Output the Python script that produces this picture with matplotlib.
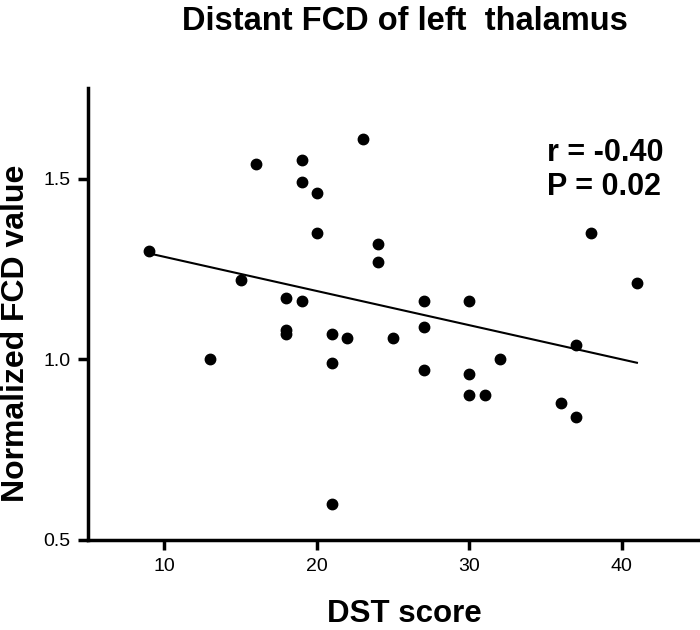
import numpy as np
import matplotlib
matplotlib.use('Agg')
import matplotlib.pyplot as plt

# DST score vs normalized FCD value
dst_score = [9, 13, 15, 16, 18, 18, 18, 19, 19, 19, 20, 20, 21, 21, 21, 22, 23,
             24, 24, 25, 27, 27, 27, 30, 30, 30, 31, 32, 36, 37, 37, 38, 41]
fcd_value = [1.30, 1.00, 1.22, 1.54, 1.17, 1.08, 1.07, 1.55, 1.49, 1.16, 1.46, 1.35,
             1.07, 0.99, 0.60, 1.06, 1.61, 1.32, 1.27, 1.06, 1.16, 1.09, 0.97, 1.16,
             0.96, 0.90, 0.90, 1.00, 0.88, 1.04, 0.84, 1.35, 1.21]
x_ticks = [10, 20, 30, 40]
y_ticks = [0.5, 1.0, 1.5]
stats_text = 'r = -0.40\nP = 0.02'

plt.rcParams['font.family'] = ['Liberation Sans', 'DejaVu Sans']

fig = plt.figure(figsize=(7, 6.3), dpi=100)
ax = fig.add_axes([0.126, 0.143, 0.871, 0.717])

ax.plot(dst_score, fcd_value, 'o', color='black', markersize=7.5, zorder=3)

# linear fit
slope, intercept = np.polyfit(dst_score, fcd_value, 1)
xs = np.array([min(dst_score), max(dst_score)])
ax.plot(xs, slope * xs + intercept, color='black', linewidth=1.5)

ax.set_xlim(5, 45)
ax.set_ylim(0.5, 1.75)
ax.set_xticks(x_ticks)
ax.set_yticks(y_ticks)
ax.set_yticklabels(['%.1f' % v for v in y_ticks])

for s in ['top', 'right']:
    ax.spines[s].set_visible(False)
for s in ['left', 'bottom']:
    ax.spines[s].set_linewidth(2.5)
ax.tick_params(direction='out', length=7, width=2.5, labelsize=14, pad=6)

fig.text(404 / 700, 1 - 614 / 630, 'DST score', fontsize=22.5, fontweight='bold',
         ha='center', va='center')
fig.text(16 / 700, 1 - 333 / 630, 'Normalized FCD value', fontsize=23,
         fontweight='bold', rotation=90, ha='center', va='center')
fig.text(405 / 700, 1 - 22 / 630, 'Distant FCD of left  thalamus', fontsize=23.5,
         fontweight='bold', ha='center', va='center')
fig.text(547 / 700, 1 - 170 / 630, stats_text, fontsize=22,
         fontweight='bold', ha='left', va='center', linespacing=1.2)

fig.savefig('out.png', dpi=100)
